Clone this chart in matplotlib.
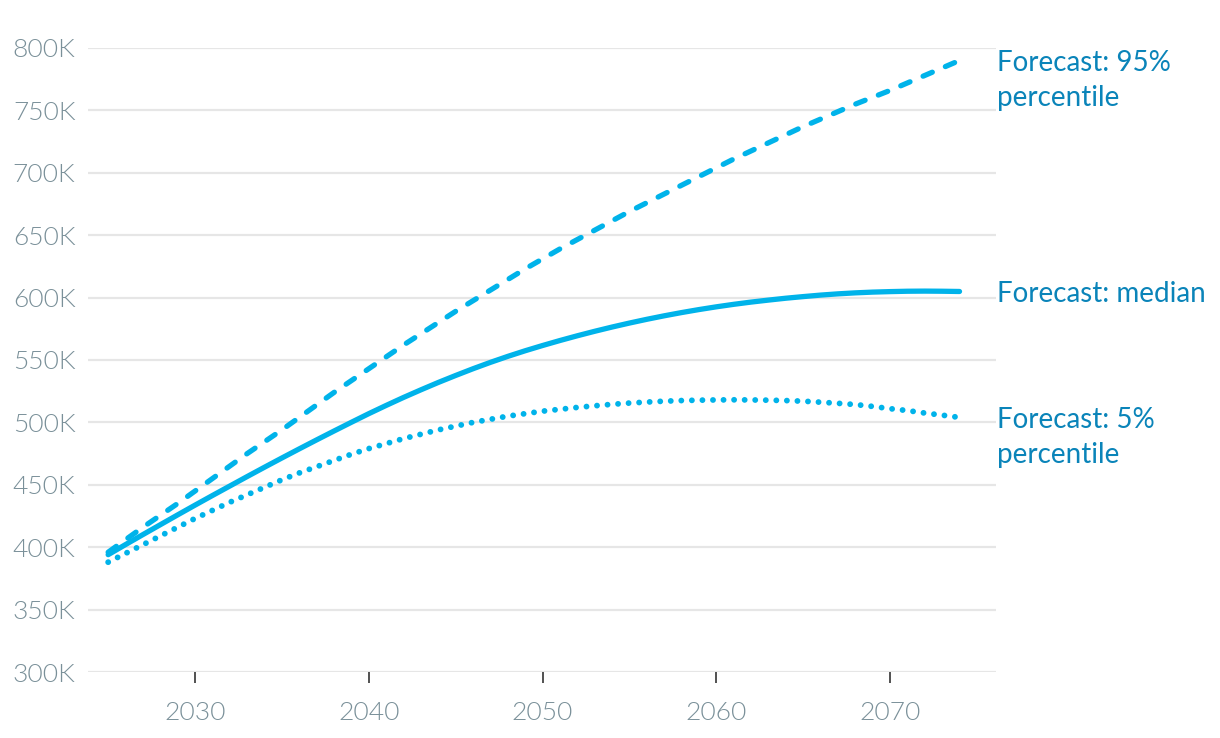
import numpy as np
import matplotlib.pyplot as plt
from matplotlib import font_manager as fm
from matplotlib.ticker import FuncFormatter

years = list(range(2025, 2075))

# thousands
median = [394, 402.1, 410.1, 418, 425.9, 433.7, 441.4, 449, 456.6, 464.1,
          471.5, 478.8, 486, 493.1, 500.1, 507, 513.6, 520, 526.1, 532,
          537.6, 543, 548.1, 552.9, 557.4, 561.6, 565.6, 569.4, 573, 576.4,
          579.6, 582.6, 585.4, 588, 590.4, 592.6, 594.6, 596.4, 598, 599.5,
          600.8, 602, 603, 603.8, 604.4, 604.8, 605.1, 605.2, 605.1, 604.9]
p95 = [396, 406, 416, 425.5, 435, 445, 455, 465, 475, 484.5,
       494, 504, 514, 524, 533.5, 543, 552.5, 562, 571, 580,
       589, 597.5, 606, 614.5, 623, 631, 639, 646.5, 654, 661.5,
       669, 676, 683, 690, 697, 704, 711, 717.5, 724, 730.5,
       737, 743, 749, 755, 760.5, 766, 772, 778, 784, 790]
p05 = [388, 395, 402, 409, 416, 423, 429.5, 436, 442, 448,
       454, 459.5, 464.5, 469.5, 474.5, 479, 483, 487, 490.5, 494,
       497, 500, 502.5, 505, 507, 509, 510.5, 512, 513.3, 514.5,
       515.5, 516.3, 517, 517.5, 517.8, 518, 518.1, 518, 517.8, 517.5,
       517, 516.2, 515.3, 514.3, 512.8, 511, 509.5, 507.5, 505.8, 504]

labels = [["Forecast: 95%", "percentile"], ["Forecast: median"], ["Forecast: 5%", "percentile"]]

line_color = "#00b3ea"
label_color = "#0a84b9"
tick_color = "#7a9099"

plt.rcParams['font.family'] = ['Lato', 'DejaVu Sans']

# light weight for the tick labels, if the file is there
light_files = [f for f in fm.findSystemFonts()
               if f.lower().endswith(('lato-light.ttf', 'lato-light.otf'))]
if light_files:
    tick_font = fm.FontProperties(fname=light_files[0], size=19)
else:
    tick_font = fm.FontProperties(family='Lato', size=18.5)

fig = plt.figure(figsize=(12.2, 7.38), dpi=100)
ax = fig.add_axes([88 / 1220, 1 - 672 / 738, (996 - 88) / 1220, (672 - 48) / 738])

x = np.array(years)
ax.plot(x, np.array(p95) * 1000, color=line_color, lw=3.8, ls=(0, (1.9, 2.7)),
        dash_capstyle='round')
ax.plot(x, np.array(median) * 1000, color=line_color, lw=3.8, solid_capstyle='round')
ax.plot(x, np.array(p05) * 1000, color=line_color, lw=4.2, ls=(0, (0.01, 1.8)),
        dash_capstyle='round')

ax.set_xlim(2023.84, 2076.1)
ax.set_ylim(300000, 800000)
ax.set_yticks(np.arange(300000, 800001, 50000))
ax.set_xticks([2030, 2040, 2050, 2060, 2070])
ax.yaxis.set_major_formatter(FuncFormatter(lambda v, p: f"{int(v / 1000)}K"))

ax.grid(axis='y', color='#e6e6e6', lw=1.6)
ax.set_axisbelow(True)
for s in ax.spines.values():
    s.set_visible(False)
ax.tick_params(axis='y', length=0, pad=9, labelcolor=tick_color)
ax.tick_params(axis='x', length=8, width=1.2, color='#333333', pad=13,
               labelcolor=tick_color)
for t in ax.get_xticklabels() + ax.get_yticklabels():
    t.set_fontproperties(tick_font)

ends = [p95[-1], median[-1], p05[-1]]
for lab, yv in zip(labels, ends):
    for i, line in enumerate(lab):
        ax.annotate(line, xy=(1, yv * 1000), xycoords=('axes fraction', 'data'),
                    xytext=(1, -2 - 25 * i), textcoords='offset points',
                    ha='left', va='center', fontsize=20, color=label_color,
                    annotation_clip=False)

fig.savefig("out.png", dpi=100)
